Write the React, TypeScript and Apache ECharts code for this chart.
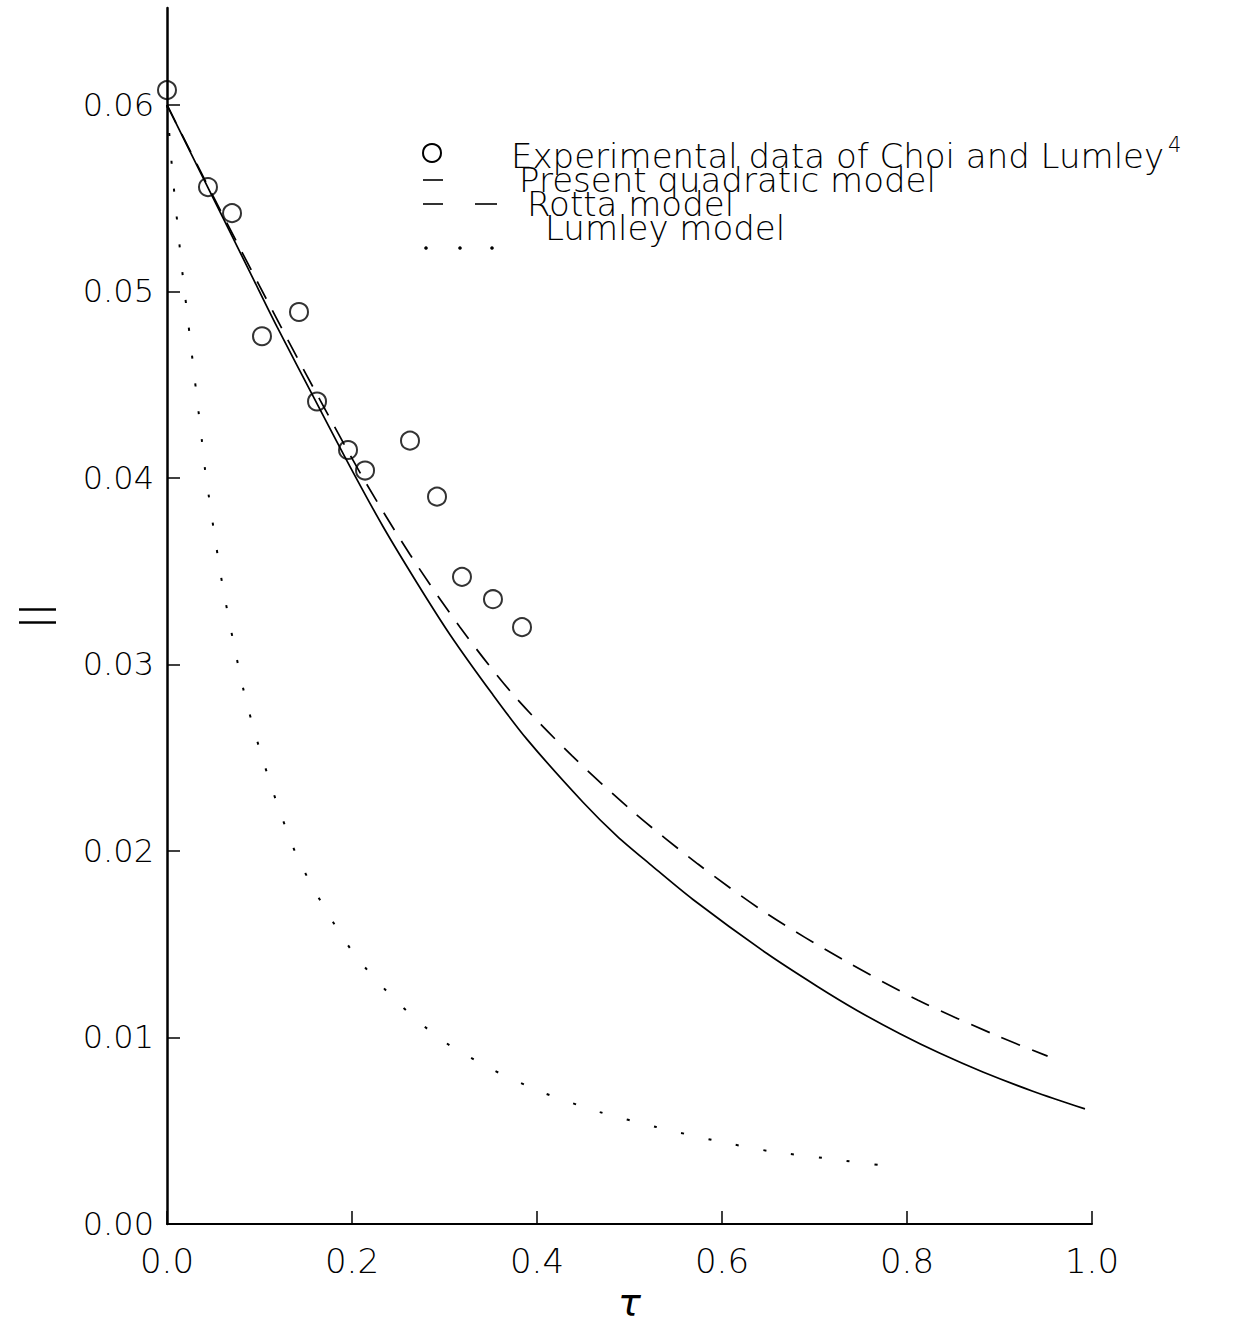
import React, { useEffect, useRef } from "react";
import * as echarts from "echarts";

// Decay of the anisotropy invariant II with time tau
const expTau = [0.0, 0.0443, 0.0703, 0.1027, 0.1427, 0.1622, 0.1957, 0.2141, 0.2627, 0.2919, 0.3189, 0.3524, 0.3838];
const expVal = [0.0608, 0.0556, 0.0542, 0.0476, 0.0489, 0.0441, 0.0415, 0.0404, 0.042, 0.039, 0.0347, 0.0335, 0.032];

const quadTau = [0, 0.044, 0.09, 0.119, 0.162, 0.198, 0.2335, 0.27, 0.306, 0.352, 0.389, 0.45, 0.4865, 0.522, 0.5686, 0.6486, 0.7027, 0.746, 0.7924, 0.8357, 0.882, 0.936, 0.9924];
const quadVal = [0.06, 0.0556, 0.051, 0.0481, 0.044, 0.0406, 0.0374, 0.0344, 0.0316, 0.0284, 0.026, 0.0226, 0.0208, 0.0193, 0.0174, 0.0145, 0.01275, 0.01145, 0.0102, 0.00915, 0.00815, 0.00712, 0.00617];

const rottaTau = [0, 0.05, 0.1, 0.15, 0.212, 0.2627, 0.3168, 0.374, 0.438, 0.504, 0.574, 0.6497, 0.73, 0.812, 0.897, 0.952];
const rottaVal = [0.06, 0.0551, 0.0503, 0.0456, 0.04, 0.0359, 0.032, 0.0284, 0.0251, 0.0221, 0.0193, 0.0166, 0.0142, 0.012, 0.0101, 0.009];

const lumleyTau = [0, 0.004, 0.0065, 0.0095, 0.0125, 0.016, 0.0195, 0.023, 0.0265, 0.03, 0.034, 0.0375, 0.041, 0.045, 0.05, 0.0595, 0.0714, 0.0843, 0.1005, 0.12, 0.1416, 0.172, 0.205, 0.249, 0.296, 0.351, 0.409, 0.468, 0.529, 0.59, 0.652, 0.716, 0.78];
const lumleyVal = [0.06, 0.0575, 0.056, 0.0545, 0.053, 0.0513, 0.0498, 0.0483, 0.0468, 0.0453, 0.0436, 0.0421, 0.0405, 0.0391, 0.0374, 0.0344, 0.0313, 0.0283, 0.0254, 0.0224, 0.0196, 0.0168, 0.0143, 0.0119, 0.0099, 0.0083, 0.007, 0.006, 0.0052, 0.0045, 0.0039, 0.0035, 0.0031];

const xTicks = [0, 0.2, 0.4, 0.6, 0.8, 1.0];
const yTicks = [0, 0.01, 0.02, 0.03, 0.04, 0.05, 0.06];

const legendLabels = [
  "Experimental data of Choi and Lumley",
  "Present quadratic model",
  "Rotta model",
  "Lumley model",
];
const refMark = "4";

const zip = (xs: number[], ys: number[]) => xs.map((x, i) => [x, ys[i]]);

const INK = "#000000";
const FONT = "DejaVu Sans";
const LEGEND_FONT = `200 34px '${FONT}'`;

// width of a string in the given CSS font, used to place the superscript
function textWidth(text: string, font: string): number {
  const ctx = document.createElement("canvas").getContext("2d");
  if (!ctx) return text.length * 18;
  ctx.font = font;
  return ctx.measureText(text).width;
}

export default function App() {
  const ref = useRef<HTMLDivElement>(null);

  useEffect(() => {
    if (!ref.current) return;
    const chart = echarts.init(ref.current, null, { renderer: "svg" });

    const legendText = (text: string, x: number, y: number) => ({
      type: "text",
      x,
      y,
      style: { text, fill: INK, font: LEGEND_FONT, verticalAlign: "middle", align: "left" },
    });

    const firstX = 511;
    const supX = firstX + textWidth(legendLabels[0], LEGEND_FONT) + 4;

    chart.setOption({
      animation: false,
      backgroundColor: "#ffffff",
      grid: { left: 167, right: 148, top: 8, bottom: 99, containLabel: false, outerBoundsMode: "none" },
      xAxis: {
        type: "value",
        min: 0,
        max: 1.0,
        name: "τ",
        nameLocation: "middle",
        nameGap: 52,
        nameTextStyle: { fontFamily: FONT, fontStyle: "italic", fontWeight: 200, fontSize: 38, color: INK },
        axisLine: { show: true, onZero: false, lineStyle: { color: INK, width: 2 } },
        axisTick: { show: true, inside: true, length: 13, customValues: xTicks, lineStyle: { color: INK, width: 1.5 } },
        axisLabel: {
          customValues: xTicks,
          formatter: (v: number) => v.toFixed(1),
          fontFamily: FONT,
          fontWeight: 200,
          fontSize: 34,
          color: INK,
          margin: 20,
        },
        splitLine: { show: false },
      },
      yAxis: {
        type: "value",
        min: 0,
        max: 0.0652,
        name: "II",
        nameLocation: "middle",
        nameRotate: 90,
        nameGap: 106,
        nameTextStyle: { fontFamily: "Open Sans", fontWeight: 300, fontSize: 52, color: INK },
        axisLine: { show: true, onZero: false, lineStyle: { color: INK, width: 2.5 } },
        axisTick: { show: true, inside: true, length: 13, customValues: yTicks, lineStyle: { color: INK, width: 1.5 } },
        axisLabel: {
          customValues: yTicks,
          formatter: (v: number) => v.toFixed(2),
          fontFamily: FONT,
          fontWeight: 200,
          fontSize: 32,
          color: INK,
          margin: 13,
        },
        splitLine: { show: false },
      },
      series: [
        {
          name: "Present quadratic model",
          type: "line",
          data: zip(quadTau, quadVal),
          showSymbol: false,
          smooth: 0.3,
          lineStyle: { color: INK, width: 1.7, type: "solid" },
          z: 3,
        },
        {
          name: "Rotta model",
          type: "line",
          data: zip(rottaTau, rottaVal),
          showSymbol: false,
          smooth: 0.3,
          lineStyle: { color: INK, width: 1.7, type: [20, 13] },
          z: 3,
        },
        {
          name: "Lumley model",
          type: "line",
          data: zip(lumleyTau, lumleyVal),
          showSymbol: false,
          smooth: 0.25,
          lineStyle: { color: INK, width: 2, type: [3, 25] },
          z: 3,
        },
        {
          name: "Experimental data of Choi and Lumley",
          type: "scatter",
          data: zip(expTau, expVal),
          symbol: "circle",
          symbolSize: 18,
          itemStyle: { color: "transparent", borderColor: INK, borderWidth: 2 },
          z: 4,
        },
      ],
      graphic: [
        // legend keys
        { type: "circle", shape: { cx: 432, cy: 153, r: 9 }, style: { fill: "none", stroke: INK, lineWidth: 2 } },
        { type: "line", shape: { x1: 423, y1: 180, x2: 443, y2: 180 }, style: { stroke: INK, lineWidth: 1.6 } },
        { type: "line", shape: { x1: 423, y1: 204, x2: 443, y2: 204 }, style: { stroke: INK, lineWidth: 1.6 } },
        { type: "line", shape: { x1: 475, y1: 204, x2: 497, y2: 204 }, style: { stroke: INK, lineWidth: 1.6 } },
        { type: "circle", shape: { cx: 426, cy: 248, r: 1.8 }, style: { fill: INK } },
        { type: "circle", shape: { cx: 460, cy: 248, r: 1.8 }, style: { fill: INK } },
        { type: "circle", shape: { cx: 492, cy: 248, r: 1.8 }, style: { fill: INK } },
        // legend labels
        legendText(legendLabels[0], firstX, 156),
        { type: "text", x: supX, y: 145, style: { text: refMark, fill: INK, font: `200 21px '${FONT}'`, verticalAlign: "middle" } },
        legendText(legendLabels[1], 519, 180),
        legendText(legendLabels[2], 527, 204),
        legendText(legendLabels[3], 545, 228),
      ],
    });

    return () => chart.dispose();
  }, []);

  return (
    <div
      ref={ref}
      style={{ position: "fixed", left: 0, top: 0, width: 1240, height: 1323, background: "#fff" }}
    />
  );
}
